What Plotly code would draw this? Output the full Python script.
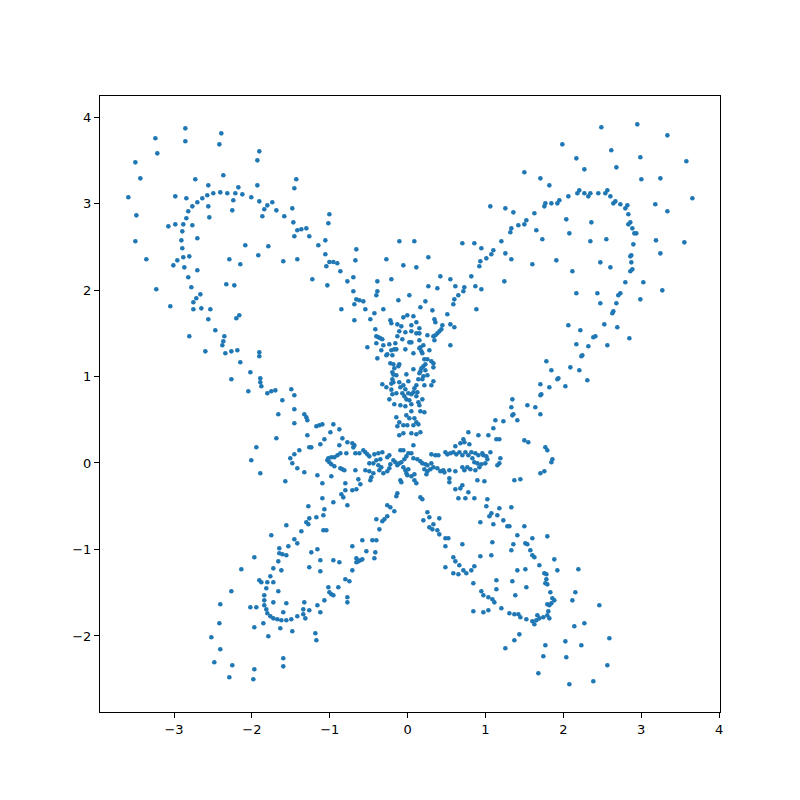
import plotly.graph_objects as go

# Points, grouped by region of the picture
upper_left = [(-2.855,3.869),(-3.240,3.754),(-2.393,3.811),(-2.855,3.719),(-2.418,3.684),(-3.215,3.580),(-1.905,3.603),(-3.497,3.476),(-1.930,3.499),(-2.367,3.326),(-3.433,3.291),(-2.727,3.280),(-1.430,3.280),(-2.560,3.210),(-2.174,3.187),(-1.930,3.210),(-1.455,3.176),(-3.587,3.072),(-2.984,3.083),(-2.842,3.060),(-2.637,3.060),(-2.573,3.095),(-2.496,3.118),(-2.406,3.129),(-2.316,3.118),(-2.213,3.118),(-2.123,3.106),(-2.008,3.072),(-2.239,3.037),(-2.701,3.014),(-2.765,2.967),(-2.560,2.967),(-1.905,3.025),(-1.738,3.014),(-1.802,2.979),(-1.841,2.933),(-2.817,2.910),(-2.252,2.921),(-1.686,2.921),(-1.481,2.944),(-3.484,2.863),(-2.842,2.829),(-2.547,2.840),(-1.866,2.852),(-1.584,2.852),(-3.073,2.736),(-2.984,2.759),(-2.881,2.759),(-2.765,2.748),(-1.468,2.782),(-2.894,2.678),(-1.417,2.690),(-1.365,2.702),(-1.301,2.713),(-1.455,2.621),(-1.263,2.621),(-3.497,2.563),(-2.906,2.574),(-2.701,2.598),(-2.085,2.517),(-1.789,2.505),(-2.894,2.482),(-3.356,2.355),(-2.958,2.343),(-2.881,2.378),(-2.804,2.389),(-2.290,2.355),(-1.918,2.401),(-1.597,2.332),(-1.417,2.355),(-3.009,2.285),(-2.868,2.262),(-2.149,2.297),(-2.701,2.228),(-2.817,2.147),(-2.329,2.066),(-2.226,2.054),(-3.228,2.008),(-2.778,2.031),(-2.662,1.950),(-2.714,1.904),(-2.752,1.858)]

upper_middle = [(-1.005,2.875),(-1.018,2.771),(-1.057,2.574),(-1.147,2.517),(-1.057,2.413),(-0.659,2.470),(-1.005,2.324),(-0.954,2.324),(-0.903,2.309),(-1.044,2.274),(-0.671,2.343),(-0.864,2.216),(-1.224,2.124),(-1.031,2.054),(-0.774,2.100),(-0.697,2.147),(-0.697,1.985),(-0.659,1.892),(-0.620,1.881),(-0.569,1.869),(-0.684,1.835),(-0.389,2.100),(-0.389,1.985),(-0.402,1.939),(-0.273,2.355),(-0.106,2.563),(0.086,2.563),(-0.055,2.285),(0.112,2.262),(-0.209,2.124),(-0.119,1.881),(0.022,1.939),(0.266,2.378),(0.266,2.043),(0.228,1.869),(0.382,2.020),(0.420,2.158),(0.549,2.124),(0.613,2.043),(0.728,2.031),(0.716,1.985),(0.651,1.939),(0.600,1.892),(0.587,1.835),(0.818,2.158),(0.870,2.043),(0.947,2.008),(0.703,2.540),(0.857,2.540),(0.947,2.482),(1.101,2.459),(1.075,2.413),(1.011,2.366),(0.934,2.332),(0.921,2.274),(1.062,2.967),(1.255,2.944),(1.204,2.563),(1.255,2.424),(1.242,2.100)]

upper_right = [(2.488,3.881),(2.950,3.915),(3.336,3.788),(1.987,3.684),(2.616,3.615),(2.167,3.522),(2.989,3.534),(3.580,3.488),(2.270,3.395),(2.681,3.418),(1.499,3.361),(1.705,3.291),(3.002,3.280),(3.246,3.291),(1.820,3.210),(2.064,3.083),(2.180,3.118),(2.205,3.152),(2.270,3.118),(2.321,3.083),(2.347,3.118),(2.449,3.118),(2.539,3.118),(2.565,3.152),(2.604,3.083),(3.657,3.060),(1.358,2.898),(1.628,2.887),(1.756,2.967),(1.769,3.002),(1.846,3.002),(1.923,3.002),(1.949,3.037),(2.642,3.002),(2.668,3.025),(2.732,2.991),(2.796,2.944),(2.822,2.979),(2.835,2.875),(3.181,2.991),(3.336,2.910),(1.332,2.713),(1.319,2.667),(1.422,2.748),(1.499,2.759),(1.525,2.806),(1.653,2.690),(1.730,2.586),(2.038,2.817),(2.077,2.655),(2.360,2.782),(2.347,2.563),(2.552,2.586),(2.835,2.759),(2.860,2.782),(2.886,2.713),(2.912,2.655),(2.937,2.655),(2.899,2.528),(3.190,2.574),(3.554,2.551),(3.246,2.424),(1.332,2.355),(1.602,2.297),(1.910,2.343),(2.116,2.216),(2.475,2.320),(2.604,2.262),(2.873,2.401),(2.860,2.389),(2.873,2.320),(2.860,2.216),(2.886,2.239),(2.796,2.089),(3.027,2.089),(3.271,1.996),(2.167,1.962),(2.437,1.962),(2.706,1.939),(2.732,1.962),(2.989,1.892),(2.475,1.846),(2.681,1.846)]

middle_left = [(-3.048,1.812),(-2.752,1.777),(-2.650,1.788),(-2.534,1.777),(-2.560,1.661),(-2.200,1.673),(-2.162,1.708),(-2.470,1.534),(-2.804,1.465),(-2.354,1.465),(-2.367,1.407),(-2.380,1.361),(-2.598,1.291),(-2.341,1.268),(-2.264,1.291),(-2.187,1.303),(-1.905,1.280),(-1.905,1.234),(-2.149,1.164),(-2.020,1.049),(-2.264,0.968),(-1.892,0.979),(-1.892,0.933),(-1.879,0.887),(-2.046,0.829),(-1.802,0.806),(-1.751,0.829),(-1.699,0.840),(-1.494,0.852),(-1.455,0.783),(-1.609,0.725),(-1.455,0.621),(-1.661,0.563),(-1.327,0.563),(-1.301,0.528),(-1.288,0.494),(-1.455,0.459),(-1.288,0.320),(-1.686,0.286),(-1.943,0.182),(-1.263,0.182),(-1.391,0.147),(-1.455,0.101),(-1.507,0.054),(-2.008,0.031),(-1.481,-0.003),(-1.417,-0.061),(-1.327,-0.107),(-1.892,-0.119),(-1.571,-0.212),(-1.275,-0.501)]

middle_right = [(2.642,1.754),(2.629,1.731),(2.064,1.592),(2.218,1.534),(2.526,1.603),(2.693,1.569),(2.385,1.453),(2.411,1.465),(2.848,1.442),(2.167,1.372),(2.321,1.349),(2.565,1.361),(2.244,1.245),(2.231,1.234),(1.782,1.176),(1.846,1.072),(2.090,1.106),(2.205,1.072),(1.936,0.979),(1.923,0.968),(2.308,0.956),(1.705,0.910),(1.820,0.875),(2.026,0.887),(1.717,0.794),(1.705,0.783),(1.345,0.736),(1.332,0.644),(1.538,0.667),(1.640,0.644),(1.358,0.563),(1.345,0.551),(1.705,0.563),(1.409,0.494),(1.499,0.262),(1.550,0.239),(1.769,0.182),(1.794,0.147),(1.859,0.043),(1.846,0.008),(1.756,-0.096),(1.705,-0.119),(1.371,-0.200),(1.448,-0.188),(1.332,-0.512)]

center_upper_left = [(-0.851,1.777),(-0.543,1.777),(-0.427,1.731),(-0.312,1.777),(-0.684,1.650),(-0.479,1.661),(-0.222,1.650),(-0.209,1.615),(-0.132,1.603),(-0.055,1.684),(-0.004,1.708),(-0.081,1.580),(-0.415,1.546),(-0.107,1.523),(-0.029,1.511),(-0.402,1.465),(-0.376,1.453),(-0.350,1.442),(-0.325,1.430),(-0.132,1.465),(-0.068,1.430),(0.022,1.395),(-0.517,1.338),(-0.402,1.384),(-0.312,1.361),(-0.235,1.372),(-0.158,1.384),(-0.338,1.303),(-0.209,1.303),(-0.171,1.314),(-0.145,1.314),(-0.261,1.257),(-0.273,1.245),(-0.196,1.245),(-0.029,1.314),(-0.389,1.210),(-0.222,1.153),(-0.183,1.141),(-0.107,1.141),(-0.119,1.118),(-0.171,1.095),(-0.196,1.049),(-0.183,1.022),(-0.145,1.014),(-0.016,1.025),(-0.196,0.968),(-0.183,0.933),(-0.209,0.918),(-0.107,0.933),(-0.325,0.910),(-0.273,0.875),(-0.055,0.898),(0.009,0.945),(-0.209,0.848),(-0.093,0.875),(-0.029,0.852),(0.009,0.806),(-0.145,0.806),(-0.196,0.794),(-0.235,0.736),(-0.068,0.806),(-0.042,0.771),(-0.016,0.736),(0.022,0.725),(-0.171,0.679),(-0.093,0.667),(-0.029,0.656)]

center_upper_right = [(0.164,1.800),(0.318,1.765),(0.883,1.777),(0.510,1.719),(0.074,1.696),(0.344,1.661),(0.356,1.627),(0.112,1.627),(0.048,1.592),(0.048,1.523),(0.151,1.557),(0.112,1.499),(0.151,1.499),(0.446,1.592),(0.549,1.603),(0.600,1.569),(0.433,1.546),(0.408,1.523),(0.382,1.499),(0.356,1.476),(0.331,1.465),(0.254,1.476),(0.344,1.419),(0.151,1.419),(0.048,1.395),(0.202,1.361),(0.164,1.338),(0.151,1.326),(0.549,1.361),(0.279,1.303),(0.177,1.291),(0.189,1.268),(0.074,1.268),(0.215,1.199),(0.254,1.199),(0.305,1.176),(0.331,1.153),(0.331,1.106),(0.228,1.141),(0.202,1.118),(0.177,1.095),(0.074,1.083),(0.228,1.072),(0.164,1.060),(0.151,1.037),(0.254,1.014),(0.202,1.002),(0.189,0.968),(0.138,0.968),(0.331,0.945),(0.305,0.898),(0.215,0.898),(0.112,0.898),(0.087,0.864),(0.074,0.817),(0.048,0.794),(0.125,0.817),(0.112,0.771),(0.189,0.736),(0.138,0.702),(0.048,0.679),(0.151,0.667)]

center_lower_left = [(-1.172,0.424),(-1.134,0.436),(-1.095,0.447),(-0.954,0.447),(-0.877,0.389),(-0.992,0.355),(-1.069,0.274),(-0.838,0.285),(-1.121,0.216),(-1.237,0.181),(-0.877,0.205),(-0.774,0.239),(-0.710,0.228),(-0.684,0.205),(-0.697,0.181),(-0.787,0.112),(-0.864,0.112),(-0.902,0.089),(-0.941,0.066),(-0.980,0.066),(-1.018,0.054),(-1.031,0.031),(-1.005,0.008),(-0.980,-0.015),(-0.941,-0.038),(-0.864,-0.061),(-0.838,-0.073),(-0.813,-0.084),(-0.671,0.112),(-0.620,0.112),(-0.569,0.147),(-0.543,0.124),(-0.517,0.100),(-0.492,0.077),(-0.427,0.100),(-0.376,0.112),(-0.325,0.124),(-0.350,0.043),(-0.402,0.031),(-0.440,-0.004),(-0.492,-0.004),(-0.543,-0.084),(-0.492,-0.096),(-0.440,-0.119),(-0.466,-0.165),(-0.479,-0.200),(-0.363,-0.084),(-0.338,-0.050),(-0.376,-0.027),(-0.312,-0.119),(-0.261,-0.096),(-0.235,-0.061),(-0.222,-0.015),(-0.261,0.066),(-0.235,0.089),(-0.183,0.031),(-0.158,0.008),(-0.132,-0.027),(-0.107,-0.004),(-0.081,0.008),(-0.042,0.043),(-0.016,0.077),(0.009,0.112),(-0.093,0.147),(-0.055,0.147),(-0.055,-0.050),(-0.029,-0.084),(0.009,-0.073),(-0.016,-0.119),(-0.004,-0.142),(-0.093,-0.200),(-0.081,-0.223),(-0.132,-0.350),(-0.145,-0.385),(-1.159,-0.142),(-1.095,-0.235),(-0.980,-0.154),(-0.800,-0.235),(-0.800,-0.316),(-0.710,-0.316),(-0.658,-0.304),(-0.607,-0.246),(-0.633,-0.189),(-0.671,-0.084),(-0.851,-0.362),(-0.826,-0.397),(-1.095,-0.408),(-0.954,-0.454),(-0.774,-0.489),(-1.069,-0.535),(-0.261,-0.489),(-0.222,-0.512),(-0.171,-0.558),(-0.145,0.528),(-0.107,0.470),(-0.132,0.424),(-0.055,0.436),(-0.055,0.343),(-0.107,0.320),(-0.004,0.436),(0.022,0.517),(-0.016,0.551)]

center_lower_right = [(0.048,0.598),(0.164,0.598),(0.215,0.586),(0.087,0.517),(0.112,0.470),(0.138,0.447),(0.074,0.436),(0.048,0.343),(0.112,0.332),(0.164,0.355),(0.074,0.205),(0.048,0.112),(0.074,0.054),(0.125,0.043),(0.164,0.020),(0.189,-0.004),(0.228,-0.015),(0.254,-0.027),(0.305,-0.004),(0.215,-0.073),(0.254,-0.096),(0.292,-0.073),(0.331,-0.050),(0.382,-0.061),(0.420,-0.096),(0.459,-0.084),(0.472,-0.108),(0.241,-0.131),(0.087,-0.131),(0.048,-0.154),(0.087,-0.200),(0.112,-0.235),(0.305,0.100),(0.356,0.089),(0.395,0.089),(0.485,0.124),(0.510,0.100),(0.549,0.112),(0.587,0.124),(0.626,0.100),(0.665,0.124),(0.613,0.193),(0.677,0.228),(0.729,0.239),(0.793,0.216),(0.780,0.355),(0.716,0.274),(0.909,0.320),(1.037,0.320),(1.101,0.401),(1.127,0.494),(1.230,0.482),(1.140,0.274),(1.178,0.274),(1.063,0.124),(0.960,0.112),(0.870,0.112),(0.819,0.124),(0.780,0.089),(0.742,0.124),(0.703,0.089),(0.832,0.054),(0.857,0.008),(0.896,-0.004),(0.947,-0.015),(0.998,-0.004),(1.024,0.043),(1.011,0.077),(0.973,0.089),(0.909,0.089),(0.767,-0.050),(0.806,-0.073),(0.729,-0.084),(0.703,-0.050),(0.870,-0.084),(0.921,-0.050),(0.613,-0.096),(0.536,-0.084),(0.536,-0.177),(0.536,-0.223),(0.613,-0.304),(0.677,-0.293),(0.703,-0.258),(0.780,-0.339),(0.652,-0.408),(0.742,-0.408),(0.857,-0.408),(0.896,-0.200),(0.986,-0.212),(1.024,-0.420),(1.011,-0.501),(1.178,-0.524),(1.076,-0.582),(1.178,-0.004),(1.153,-0.027),(1.191,0.054),(0.254,-0.570),(0.164,-0.397),(0.189,-0.420)]

lower_left = [(-1.558,-0.720),(-1.751,-0.836),(-1.365,-0.790),(-1.301,-0.686),(-1.263,-0.640),(-1.275,-0.709),(-1.455,-0.882),(-1.417,-0.929),(-1.532,-0.963),(-1.648,-0.986),(-1.648,-1.044),(-1.609,-1.056),(-1.558,-1.067),(-1.969,-1.090),(-1.661,-1.137),(-1.263,-1.206),(-1.725,-1.218),(-1.622,-1.241),(-2.136,-1.229),(-1.763,-1.310),(-1.905,-1.356),(-1.879,-1.379),(-1.802,-1.379),(-1.725,-1.379),(-1.815,-1.449),(-2.264,-1.483),(-1.661,-1.483),(-1.841,-1.530),(-1.841,-1.588),(-1.841,-1.645),(-1.725,-1.611),(-1.558,-1.622),(-1.327,-1.611),(-2.406,-1.634),(-2.020,-1.668),(-1.943,-1.668),(-1.815,-1.692),(-1.802,-1.738),(-1.763,-1.772),(-1.725,-1.796),(-1.674,-1.807),(-1.622,-1.819),(-1.558,-1.819),(-1.494,-1.807),(-1.417,-1.772),(-1.340,-1.692),(-1.340,-1.749),(-1.314,-1.796),(-1.263,-1.703),(-1.597,-1.726),(-2.418,-1.853),(-1.853,-1.853),(-1.969,-1.900),(-1.635,-1.911),(-1.481,-1.946),(-1.789,-2.004),(-2.521,-2.015),(-2.406,-2.154),(-1.597,-2.258),(-2.483,-2.304),(-2.252,-2.339),(-1.597,-2.351),(-1.969,-2.385),(-2.290,-2.478),(-1.982,-2.501)]

lower_middle = [(-1.172,-0.628),(-1.082,-0.605),(-1.082,-0.778),(-1.044,-0.778),(-0.402,-0.651),(-0.325,-0.674),(-0.299,-0.651),(-0.261,-0.616),(-0.363,-0.767),(-0.582,-0.894),(-0.453,-0.894),(-0.402,-0.894),(-0.710,-0.963),(-1.237,-1.033),(-1.159,-0.998),(-0.530,-1.021),(-0.415,-1.033),(-1.121,-1.125),(-0.954,-1.125),(-0.877,-1.148),(-0.658,-1.102),(-0.658,-1.148),(-0.633,-1.137),(-0.607,-1.125),(-0.582,-1.114),(-0.427,-1.102),(-1.121,-1.252),(-0.710,-1.241),(-0.800,-1.345),(-0.748,-1.368),(-1.018,-1.437),(-0.890,-1.437),(-1.005,-1.495),(-0.980,-1.518),(-0.954,-1.530),(-0.774,-1.553),(-0.774,-1.611),(-1.069,-1.588),(-1.159,-1.645),(-1.121,-1.726),(-1.185,-1.969),(-1.172,-2.050),(0.202,-0.663),(0.279,-0.628),(0.331,-0.709),(0.407,-0.640),(0.279,-0.744),(0.318,-0.767),(0.382,-0.778),(0.407,-0.825),(0.485,-0.871),(0.523,-0.871),(0.485,-0.963),(0.703,-0.940),(0.587,-1.090),(0.613,-1.137),(0.664,-1.183),(0.485,-1.206),(0.587,-1.275),(0.652,-1.287),(0.716,-1.241),(0.754,-1.275),(0.818,-1.241),(0.857,-1.194),(0.934,-1.079),(0.934,-0.686),(1.050,-0.616),(1.101,-0.709),(1.152,-0.605),(1.229,-0.663),(1.281,-0.732),(1.307,-0.732),(1.088,-0.917),(1.075,-1.067),(0.844,-1.391),(0.947,-1.483),(0.973,-1.530),(1.037,-1.553),(1.088,-1.576),(1.114,-1.611),(1.140,-1.356),(1.140,-1.460),(1.204,-1.680),(0.844,-1.715),(0.973,-1.726),(1.037,-1.703),(1.307,-1.738),(1.255,-2.142)]

lower_right = [(1.499,-0.732),(1.409,-0.836),(1.602,-0.871),(1.794,-0.848),(1.358,-0.940),(1.512,-0.929),(1.538,-0.940),(1.332,-1.009),(1.576,-1.009),(1.602,-1.067),(1.628,-1.090),(1.884,-1.114),(1.692,-1.183),(1.409,-1.241),(1.512,-1.229),(1.923,-1.241),(2.193,-1.229),(1.756,-1.275),(1.782,-1.287),(1.782,-1.345),(1.345,-1.368),(1.769,-1.391),(1.794,-1.403),(1.525,-1.437),(1.833,-1.495),(2.154,-1.495),(1.383,-1.530),(1.859,-1.564),(1.884,-1.588),(2.116,-1.588),(1.794,-1.634),(1.820,-1.645),(1.846,-1.622),(1.807,-1.715),(2.462,-1.645),(1.371,-1.749),(1.422,-1.749),(1.448,-1.784),(1.666,-1.761),(1.692,-1.796),(1.743,-1.784),(1.794,-1.761),(1.820,-1.796),(1.525,-1.807),(1.602,-1.830),(1.628,-1.865),(1.653,-1.819),(2.270,-1.853),(2.141,-1.888),(1.435,-1.981),(1.371,-2.050),(1.769,-2.108),(2.026,-2.062),(2.231,-2.108),(2.591,-2.027),(1.743,-2.235),(2.038,-2.246),(2.565,-2.339),(1.679,-2.431),(2.077,-2.559),(2.385,-2.524)]

x_ticks = [-3, -2, -1, 0, 1, 2, 3, 4]
y_ticks = [-2, -1, 0, 1, 2, 3, 4]

regions = [upper_left, upper_middle, upper_right, middle_left, middle_right,
           center_upper_left, center_upper_right, center_lower_left,
           center_lower_right, lower_left, lower_middle, lower_right]
xs = [p[0] for r in regions for p in r]
ys = [p[1] for r in regions for p in r]

fig = go.Figure(go.Scatter(
    x=xs, y=ys, mode="markers",
    marker=dict(color="#1f77b4", size=4.6, line=dict(width=0)),
    showlegend=False, hoverinfo="skip"))

axis_common = dict(showline=True, linecolor="black", linewidth=1, mirror=True,
                   ticks="outside", ticklen=5, tickwidth=1, tickcolor="black",
                   showgrid=False, zeroline=False,
                   tickfont=dict(family="DejaVu Sans", size=13, color="black"))

fig.update_layout(
    width=800, height=800,
    margin=dict(l=92, r=88, t=88, b=96),
    paper_bgcolor="white", plot_bgcolor="white",
    xaxis=dict(range=[-3.951, 4.012], tickvals=x_ticks, **axis_common),
    yaxis=dict(range=[-2.879, 4.243], tickvals=y_ticks, **axis_common),
)

fig.write_html("out.html")
